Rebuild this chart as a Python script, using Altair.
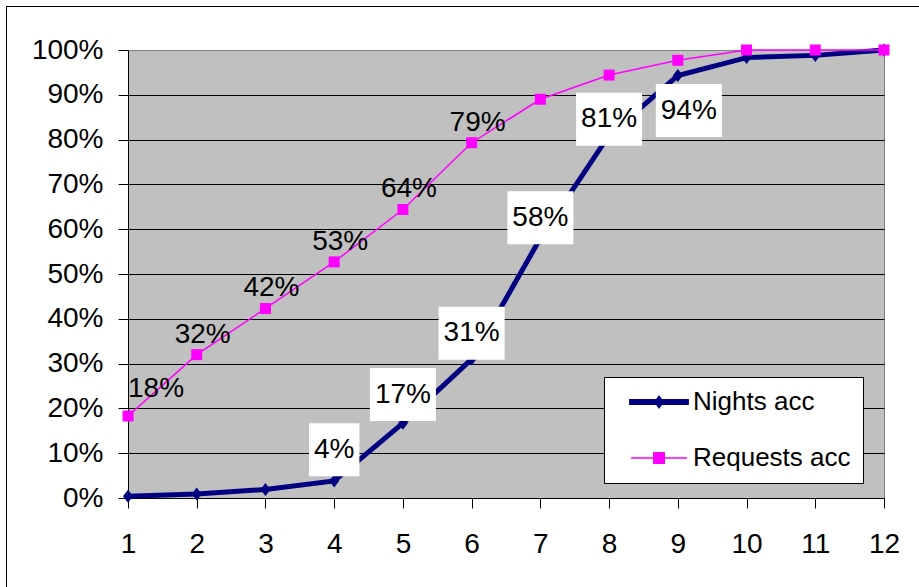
import altair as alt
import pandas as pd

# Cumulative shares per length of stay (1..12)
months = list(range(1, 13))
nights_acc = [0.004, 0.009, 0.019, 0.038, 0.167, 0.31, 0.58, 0.81, 0.943, 0.983, 0.988, 1.0]
requests_acc = [0.183, 0.32, 0.423, 0.527, 0.644, 0.793, 0.89, 0.944, 0.977, 1.0, 1.0, 1.0]

series_names = ["Nights acc", "Requests acc"]
series_colors = ["#000080", "#FF00FF"]

# points that carry a value label
nights_labeled = [4, 5, 6, 7, 8, 9]
requests_labeled = [1, 2, 3, 4, 5, 6]

y_ticks = [i / 10 for i in range(11)]

W, H = 756, 448
FONT = "Liberation Sans"

nights_df = pd.DataFrame({"month": months, "value": nights_acc})
nights_df["labeled"] = nights_df["month"].isin(nights_labeled)
requests_df = pd.DataFrame({"month": months, "value": requests_acc})
requests_df["labeled"] = requests_df["month"].isin(requests_labeled)

x_scale = alt.Scale(domain=[1, 12], nice=False, zero=False)
y_scale = alt.Scale(domain=[0, 1], nice=False)

x_axis = alt.Axis(
    values=months, format="d", title=None, grid=False,
    labelFont=FONT, labelFontSize=28, labelColor="black",
    tickSize=10, tickColor="black", domainColor="black",
    labelPadding=22, labelFlush=False,
)
y_axis = alt.Axis(
    values=y_ticks, format=".0%", title=None, grid=True,
    gridColor=alt.condition("datum.value == 1", alt.value("#808080"), alt.value("black")),
    gridWidth=1,
    labelFont=FONT, labelFontSize=28, labelColor="black",
    tickSize=10, tickColor="black", domainColor="black",
    labelPadding=15,
)


def X(field):
    return alt.X(field, type="quantitative", scale=x_scale, axis=x_axis)


def Y(field):
    return alt.Y(field, type="quantitative", scale=y_scale, axis=y_axis)


# Nights series: thick navy line with diamond markers
nights_line = alt.Chart(nights_df).mark_line(
    color=series_colors[0], strokeWidth=5
).encode(x=X("month"), y=Y("value"))

nights_pts = alt.Chart(nights_df).mark_point(
    filled=True, color=series_colors[0], opacity=1, size=100,
    shape="M0,-1.3L1,0L0,1.3L-1,0Z",
).encode(x=X("month"), y=Y("value"))

# Requests series: thin magenta line with square markers
requests_line = alt.Chart(requests_df).mark_line(
    color=series_colors[1], strokeWidth=1.5
).encode(x=X("month"), y=Y("value"))

requests_pts = alt.Chart(requests_df).mark_square(
    color=series_colors[1], opacity=1, size=121
).encode(x=X("month"), y=Y("value"))

# Requests labels sit just above their markers; the first one is kept inside the plot
req_lab = alt.Chart(requests_df).transform_filter("datum.labeled").transform_calculate(
    txt="format(datum.value, '.0%')"
)
requests_text_first = req_lab.transform_filter("datum.month == 1").mark_text(
    align="left", baseline="alphabetic", dy=-19, font=FONT, fontSize=28, color="black"
).encode(x=X("month"), y=Y("value"), text="txt:N")
requests_text = req_lab.transform_filter("datum.month > 1").mark_text(
    align="center", baseline="alphabetic", dx=6, dy=-12, font=FONT, fontSize=28, color="black"
).encode(x=X("month"), y=Y("value"), text="txt:N")

# Nights labels in white boxes; the top one goes under its point, slightly to the right
nights_lab = alt.Chart(nights_df).transform_filter("datum.labeled").transform_calculate(
    txt="format(datum.value, '.0%')",
    off_px="datum.value > 0.9 ? -35 : 32 - 20 * datum.value",
    dx_px="datum.value > 0.9 ? 11 : 0",
    hw_px="5 + 14 * (0.556 * (length(format(datum.value, '.0%')) - 1) + 0.889)",
).transform_calculate(
    cx=f"datum.month + datum.dx_px / {W / 11}",
    cy=f"datum.value + datum.off_px / {H}",
).transform_calculate(
    x_lo=f"datum.cx - datum.hw_px / {W / 11}",
    x_hi=f"datum.cx + datum.hw_px / {W / 11}",
    y_lo=f"datum.cy - 26.5 / {H}",
    y_hi=f"datum.cy + 26.5 / {H}",
)
nights_box = nights_lab.mark_rect(color="white").encode(
    x=X("x_lo"), x2="x_hi", y=Y("y_lo"), y2="y_hi"
)
nights_text = nights_lab.mark_text(
    align="center", baseline="middle", font=FONT, fontSize=28, color="black"
).encode(x=X("cx"), y=Y("cy"), text="txt:N")

# Legend: each symbol is a line segment with its marker
legend_paths = [
    "M-2.3,-0.23H2.3V0.23H-2.3Z M0,-0.54L0.38,0L0,0.54L-0.38,0Z",
    "M-2.15,-0.06H2.15V0.06H-2.15Z M-0.46,-0.46H0.46V0.46H-0.46Z",
]
legend_df = pd.DataFrame({"series": series_names, "month": [1, 1], "value": [0, 0]})
legend_layer = alt.Chart(legend_df).transform_filter("false").mark_point(
    filled=True, opacity=1
).encode(
    x=X("month"), y=Y("value"),
    color=alt.Color("series:N", scale=alt.Scale(domain=series_names, range=series_colors), title=None),
    shape=alt.Shape("series:N", scale=alt.Scale(domain=series_names, range=legend_paths), title=None),
)

# Outer chart frame (top and left edges)
frame_src = alt.Data(values=[{"k": 0}])
frame_top = alt.Chart(frame_src).mark_rule(color="black", strokeWidth=1).encode(
    x=alt.value(-122), x2=alt.value(800), y=alt.value(-43.5)
)
frame_left = alt.Chart(frame_src).mark_rule(color="black", strokeWidth=1).encode(
    x=alt.value(-121.5), y=alt.value(-44), y2=alt.value(560)
)

chart = alt.layer(
    nights_line, nights_pts, requests_line, requests_pts,
    nights_box, nights_text, requests_text_first, requests_text,
    legend_layer, frame_top, frame_left,
).properties(
    width=W, height=H,
    autosize=alt.AutoSizeParams(type="none"),
    padding={"left": 128, "top": 50, "right": 35, "bottom": 89},
).configure(
    background="white",
).configure_view(
    fill="#C0C0C0", stroke="#808080", strokeWidth=1,
).configure_legend(
    orient="none", legendX=476, legendY=327,
    fillColor="white", strokeColor="black", strokeWidth=1,
    padding=12, rowPadding=30,
    symbolSize=676, symbolStrokeWidth=0, symbolOffset=30,
    labelOffset=21, labelFont=FONT, labelFontSize=26, labelColor="black",
)

chart.save("out.html", embed_options={"renderer": "svg", "actions": False})
